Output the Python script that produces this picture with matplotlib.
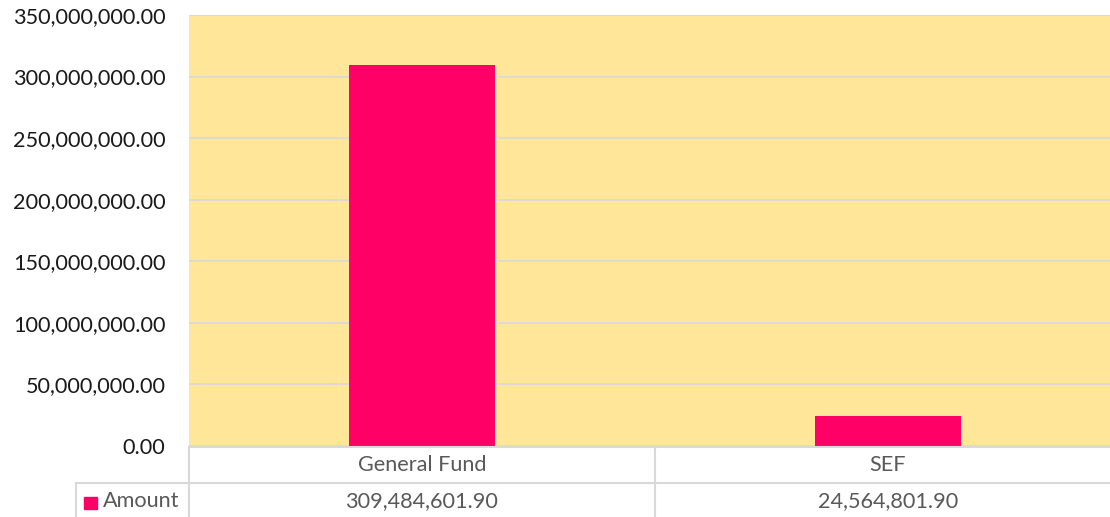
import numpy as np
import matplotlib
matplotlib.use("Agg")
from matplotlib import pyplot as plt
from matplotlib.lines import Line2D
from matplotlib.ticker import FuncFormatter

categories = ["General Fund", "SEF"]
amounts = [309484601.90, 24564801.90]
series_name = "Amount"
y_ticks = np.arange(0, 350000001, 50000000)

bar_color = "#FF0066"
fill_color = "#FFE699"
grid_color = "#D9D9D9"
text_color = "#595959"
fs = 15.6

plt.rcParams['font.family'] = ['Lato', 'DejaVu Sans']

W, H = 1110, 517
fig = plt.figure(figsize=(W / 100, H / 100), dpi=100)
# plot area runs past the right edge of the picture, like the original
left, right, top, bottom = 189, 1121, 15, 446
ax = fig.add_axes([left / W, (H - bottom) / H, (right - left) / W, (bottom - top) / H])
ax.set_facecolor(fill_color)

x = np.arange(len(categories))
ax.bar(x, amounts, width=0.313, color=bar_color, zorder=3)
ax.set_xlim(-0.5, len(categories) - 0.5)
ax.set_ylim(0, 350000000)
ax.set_yticks(y_ticks)
ax.yaxis.set_major_formatter(FuncFormatter(lambda v, p: f"{v:,.2f}"))
ax.tick_params(axis="y", length=0, pad=17, labelsize=fs, labelcolor="#1a1a1a")
ax.set_xticks([])
ax.grid(axis="y", color=grid_color, linewidth=1.3, zorder=1)
for s in ax.spines.values():
    s.set_visible(False)

# data table below the plot
tf = fig.transFigure
def px(xp, yp):
    return xp / W, (H - yp) / H

def hline(x0, x1, yp):
    a, b = px(x0, yp), px(x1, yp)
    fig.add_artist(Line2D([a[0], b[0]], [a[1], b[1]], color=grid_color, lw=1.5, transform=tf))

def vline(xp, y0, y1):
    a, b = px(xp, y0), px(xp, y1)
    fig.add_artist(Line2D([a[0], b[0]], [a[1], b[1]], color=grid_color, lw=1.5, transform=tf))

col_w = (right - left) / len(categories)
hline(left, W, 447)
hline(76, W, 483)
vline(left, 447, H)
vline(76, 483, H)
for i in range(1, len(categories)):
    vline(left + i * col_w, 447, H)

for i, (c, v) in enumerate(zip(categories, amounts)):
    cx = left + (i + 0.5) * col_w
    fig.text(*px(cx, 465), c, ha="center", va="center", fontsize=fs, color=text_color)
    fig.text(*px(cx, 501), f"{v:,.2f}", ha="center", va="center", fontsize=fs, color=text_color)

# legend key in the table header cell
kx, ky = px(84, 509)
fig.add_artist(plt.Rectangle((kx, ky), 13 / W, 12 / H, color=bar_color, transform=tf))
fig.text(*px(103, 501), series_name, ha="left", va="center", fontsize=fs, color=text_color)

fig.savefig("out.png", dpi=100)
